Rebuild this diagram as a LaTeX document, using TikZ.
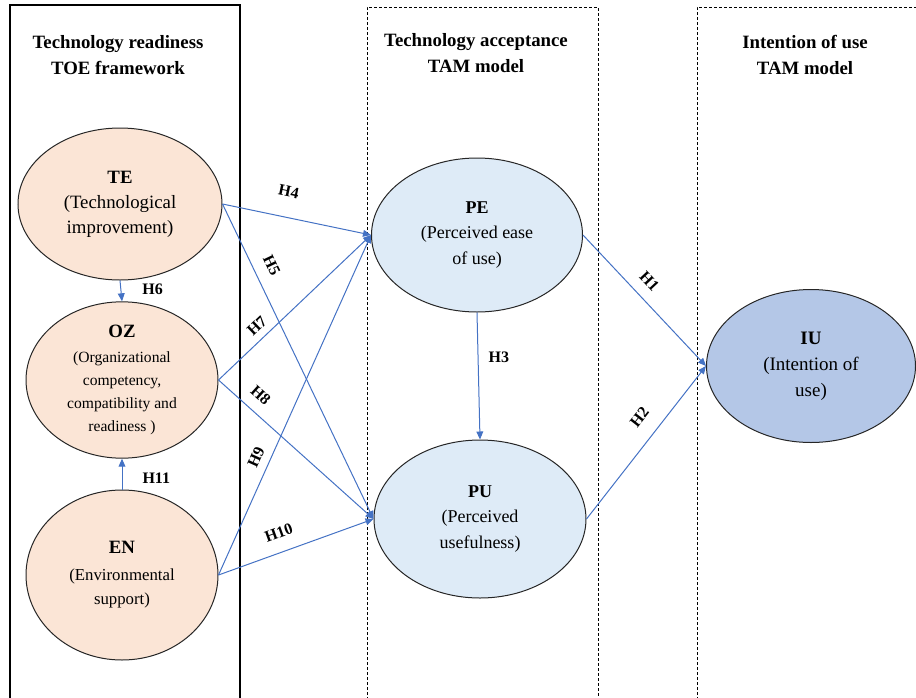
\documentclass[tikz,border=0pt]{standalone}
\usepackage{fontspec}
\setmainfont{Liberation Serif}
\usetikzlibrary{arrows.meta,shapes.geometric}
\definecolor{linkblue}{HTML}{4472C4}
\definecolor{toefill}{HTML}{FBE5D6}
\definecolor{tamfill}{HTML}{DEEBF7}
\definecolor{iufill}{HTML}{B4C7E7}
\tikzset{construct/.style={ellipse, draw=black!85, line width=0.5pt, inner sep=0pt, align=center},
  hyp/.style={draw=linkblue, line width=0.5pt, -{Triangle[length=4pt,width=3.4pt]}},
  hlabel/.style={font=\fontsize{8}{9}\selectfont\bfseries, inner sep=1pt},
  colhead/.style={align=center, font=\fontsize{9.4}{13}\selectfont\bfseries},
  colbox/.style={dashed, dash pattern=on 1.5pt off 1pt, line width=0.5pt}}

\begin{document}
\begin{tikzpicture}[x=0.5pt, y=-0.5pt]
      \useasboundingbox (0,0) rectangle (916,697);

      % columns
      \draw [line width=1.4pt] (10,700) -- (10,5) -- (240,5) -- (240,700);
      \draw [colbox] (367,700) -- (367,7) -- (598,7) -- (598,700);
      \draw [colbox] (697,700) -- (697,7) -- (918,7);

      \node [colhead] (toehead) at (118,55) {Technology readiness\\TOE framework};
      \node [colhead] (tamhead) at (476,53) {Technology acceptance\\TAM model};
      \node [colhead] (iuhead) at (805,55) {Intention of use\\TAM model};

      % constructs
      \node [construct, fill=toefill, minimum width=102pt, minimum height=76pt,
        font=\fontsize{9.4}{12.5}\selectfont] (te) at (120,204)
        {\textbf{TE}\\(Technological\\improvement)};
      \node [construct, fill=toefill, minimum width=96pt, minimum height=70pt,
        font=\fontsize{7.8}{11.6}\selectfont] (oz) at (122,380)
        {{\fontsize{9.4}{12}\selectfont\textbf{OZ}}\\[1pt](Organizational\\competency,\\compatibility and\\readiness )};
      \node [construct, fill=toefill, minimum width=96pt, minimum height=85pt,
        font=\fontsize{8.4}{12.2}\selectfont] (en) at (122,575)
        {{\fontsize{9.4}{12}\selectfont\textbf{EN}}\\[1pt](Environmental\\support)};
      \node [construct, fill=tamfill, minimum width=105.5pt, minimum height=77pt,
        font=\fontsize{9}{12.7}\selectfont] (pe) at (477,235)
        {\textbf{PE}\\(Perceived ease\\of use)};
      \node [construct, fill=tamfill, minimum width=106pt, minimum height=79pt,
        font=\fontsize{9}{12.7}\selectfont] (pu) at (480,519)
        {\textbf{PU}\\(Perceived\\usefulness)};
      \node [construct, fill=iufill, minimum width=104.5pt, minimum height=76.5pt,
        font=\fontsize{9.5}{13}\selectfont] (iu) at (811,366)
        {\textbf{IU}\\(Intention of\\use)};

      % hypotheses
      \draw [hyp] (te.south) -- (oz.north) node [hlabel, pos=0.43, right=9.5pt] {H6};
      \draw [hyp] (en.north) -- (oz.south) node [hlabel, pos=0.375, right=9pt] {H11};
      \draw [hyp] (te.east) -- (pe.west) node [hlabel, pos=0.41, sloped, above=9pt] {H4};
      \draw [hyp] (te.east) -- (pu.west) node [hlabel, pos=0.22, sloped, above=5pt] {H5};
      \draw [hyp] (oz.east) -- (pe.west) node [hlabel, pos=0.31, sloped, above=2.5pt] {H7};
      \draw [hyp] (oz.east) -- (pu.west) node [hlabel, pos=0.2, sloped, above=4.5pt] {H8};
      \draw [hyp] (en.east) -- (pe.west) node [hlabel, pos=0.33, sloped, above=3pt] {H9};
      \draw [hyp] (en.east) -- (pu.west) node [hlabel, pos=0.43, sloped, above=5.5pt] {H10};
      \draw [hyp] (pe.south) -- (pu.north) node [hlabel, pos=0.35, right=4pt] {H3};
      \draw [hyp] (pe.east) -- (iu.west) node [hlabel, pos=0.44, sloped, above=4.5pt] {H1};
      \draw [hyp] (pu.east) -- (iu.west) node [hlabel, pos=0.58, sloped, above=6.5pt] {H2};
    \end{tikzpicture}
\end{document}
